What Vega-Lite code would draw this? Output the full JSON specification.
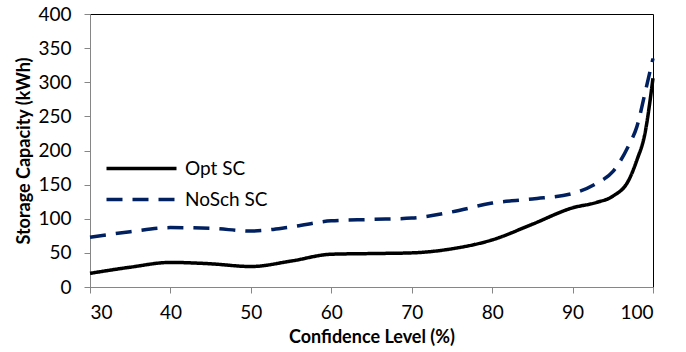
{
  "$schema": "https://vega.github.io/schema/vega-lite/v6.json",
  "autosize": "none",
  "width": 563,
  "height": 273,
  "padding": {"left": 90, "top": 14, "right": 33, "bottom": 65},
  "background": "white",
  "config": {
    "font": "Lato",
    "view": {"stroke": "black", "strokeWidth": 1},
    "axis": {"grid": false, "domainColor": "#868686", "tickColor": "#868686", "labelColor": "black", "titleColor": "black", "labelFontSize": 19, "titleFontSize": 18, "titleFontWeight": "bold", "tickSize": 6, "labelFont": "Lato", "titleFont": "Lato"}
  },
  "data": {
    "values": [
      {"cl": 30, "cap": 20, "series": "Opt SC"},
      {"cl": 35, "cap": 29, "series": "Opt SC"},
      {"cl": 40, "cap": 36, "series": "Opt SC"},
      {"cl": 45, "cap": 34, "series": "Opt SC"},
      {"cl": 50, "cap": 30, "series": "Opt SC"},
      {"cl": 55, "cap": 38, "series": "Opt SC"},
      {"cl": 60, "cap": 48, "series": "Opt SC"},
      {"cl": 65, "cap": 49, "series": "Opt SC"},
      {"cl": 70, "cap": 50, "series": "Opt SC"},
      {"cl": 75, "cap": 56, "series": "Opt SC"},
      {"cl": 80, "cap": 69, "series": "Opt SC"},
      {"cl": 85, "cap": 92, "series": "Opt SC"},
      {"cl": 90, "cap": 116, "series": "Opt SC"},
      {"cl": 93, "cap": 124, "series": "Opt SC"},
      {"cl": 95, "cap": 133, "series": "Opt SC"},
      {"cl": 97, "cap": 157, "series": "Opt SC"},
      {"cl": 98, "cap": 186, "series": "Opt SC"},
      {"cl": 99, "cap": 225, "series": "Opt SC"},
      {"cl": 100, "cap": 306, "series": "Opt SC"},
      {"cl": 30, "cap": 73, "series": "NoSch SC"},
      {"cl": 35, "cap": 81, "series": "NoSch SC"},
      {"cl": 40, "cap": 87, "series": "NoSch SC"},
      {"cl": 45, "cap": 86, "series": "NoSch SC"},
      {"cl": 50, "cap": 82, "series": "NoSch SC"},
      {"cl": 55, "cap": 88, "series": "NoSch SC"},
      {"cl": 60, "cap": 97, "series": "NoSch SC"},
      {"cl": 65, "cap": 99, "series": "NoSch SC"},
      {"cl": 70, "cap": 101, "series": "NoSch SC"},
      {"cl": 75, "cap": 110, "series": "NoSch SC"},
      {"cl": 80, "cap": 123, "series": "NoSch SC"},
      {"cl": 85, "cap": 129, "series": "NoSch SC"},
      {"cl": 90, "cap": 137, "series": "NoSch SC"},
      {"cl": 93, "cap": 152, "series": "NoSch SC"},
      {"cl": 95, "cap": 169, "series": "NoSch SC"},
      {"cl": 97, "cap": 208, "series": "NoSch SC"},
      {"cl": 98, "cap": 235, "series": "NoSch SC"},
      {"cl": 99, "cap": 284, "series": "NoSch SC"},
      {"cl": 100, "cap": 335, "series": "NoSch SC"}
    ]
  },
  "mark": {"type": "line", "interpolate": "monotone", "strokeWidth": 3.5},
  "encoding": {
    "x": {"field": "cl", "type": "quantitative", "title": "Confidence Level (%)", "scale": {"domain": [30, 100], "nice": false}, "axis": {"values": [30, 40, 50, 60, 70, 80, 90, 100], "labelPadding": 10, "titlePadding": 6}},
    "y": {"field": "cap", "type": "quantitative", "title": "Storage Capacity (kWh)", "scale": {"domain": [0, 400], "nice": false}, "axis": {"values": [0, 50, 100, 150, 200, 250, 300, 350, 400], "labelPadding": 13, "titlePadding": 4}},
    "color": {"field": "series", "type": "nominal", "scale": {"domain": ["Opt SC", "NoSch SC"], "range": ["black", "#002060"]}, "legend": {"title": null, "orient": "none", "legendX": 42, "legendY": 145, "symbolType": "M-5,0H5", "symbolSize": 196, "symbolStrokeWidth": 3.5, "symbolFillColor": "transparent", "labelFontSize": 19, "labelColor": "black", "labelFont": "Lato", "rowPadding": 11, "labelOffset": 34}},
    "strokeDash": {"field": "series", "type": "nominal", "scale": {"domain": ["Opt SC", "NoSch SC"], "range": [[1, 0], [16, 10]]}, "legend": null}
  }
}
